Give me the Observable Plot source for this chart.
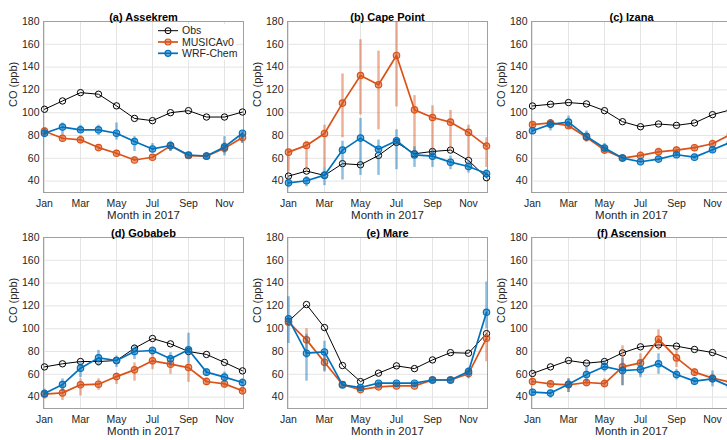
<!DOCTYPE html>
<html><head><meta charset="utf-8">
<script src="https://cdn.jsdelivr.net/npm/d3@7"></script>
<script src="https://cdn.jsdelivr.net/npm/@observablehq/plot@0.6"></script>
<style>
html,body{margin:0;padding:0;background:#fff;overflow:hidden;}
#fig{position:relative;width:727px;height:440px;overflow:hidden;background:#fff;}
#fig svg{position:absolute;}
</style></head><body><div id="fig"></div>
<script>
const months = ["Jan","Feb","Mar","Apr","May","Jun","Jul","Aug","Sep","Oct","Nov","Dec"];
const tickMonths = ["Jan","Mar","May","Jul","Sep","Nov"];
const yTicks = [40,60,80,100,120,140,160,180];
const titles = ["(a) Assekrem","(b) Cape Point","(c) Izana","(d) Gobabeb","(e) Mare","(f) Ascension"];
const legendLabels = ["Obs","MUSICAv0","WRF-Chem"];

// (a) Assekrem
const obsA = [103,110.3,117.6,116.2,106,95,93,100,101.8,96.2,96.2,100.6];
const musA = [83.8,77.6,76.2,69.4,64.4,58.5,60.9,70.9,62.4,61.8,68.8,78.2];
const musLoA = [81,75,73,67,62,57,59,66,60,60,64,73];
const musHiA = [87,81,80,72,67,61,63,74,64,64,74,82];
const wrfA = [82,87.4,85,85,82,74.7,68.2,71.2,62.9,62,70,82];
const wrfLoA = [78,81,82,80,76,66,65,66,61,60,62,73];
const wrfHiA = [86,91,89,89,91,79,73,75,65,65,79,84];

// (b) Cape Point
const obsB = [44.4,48.8,45,55.3,54.3,62.5,73.9,64,66,67.2,58.1,43];
const musB = [65.4,71.3,81.8,108.4,132.6,124.5,150.2,102.5,95.8,91.7,82.7,70.7];
const musLoB = [48,49,52,78,98,85,105,66,66,67,60,52];
const musHiB = [67,75,89,134,164,154,195,115,106,102,89,78];
const wrfB = [38.5,40.3,45.2,67.2,77.7,68,75.4,63,61.9,56.6,52.8,46.7];
const wrfLoB = [34,35,36,41,45,45,50,52,52,50,47,42];
const wrfHiB = [43,44,52,75,95,76,85,70,68,62,58,50];

// (c) Izana
const obsC = [105.9,107.4,108.9,107.7,101.8,92.1,87.7,90.1,88.9,91,98.3,102.5];
const musC = [89.5,91,88.6,78.4,67.2,60.2,62.5,65.7,67.2,69.3,72.8,81];
const musLoC = [87,87,86,75,64,58,58,62,64,66,69,78];
const musHiC = [92,94,91,81,70,62,66,69,70,72,76,84];
const wrfC = [84.2,89.8,91.8,79.2,69,60.2,57,59.3,63.1,61,67.5,74];
const wrfLoC = [81,84,86,74,65,57,55,57,61,59,65,72];
const wrfHiC = [87,94,97,84,73,63,59,61,65,63,70,76];

// (d) Gobabeb
const obsD = [66.5,69.2,71.2,71.2,72.1,82.9,91.4,86.7,80,77.4,70.4,63];
const musD = [42.6,43.7,50.8,51.3,58,63.9,71.8,68.9,65.9,53.7,51.6,45.5];
const musLoD = [38,37,41,46,51,54,64,60,53,50,48,42];
const musHiD = [47,50,56,56,61,70,78,71,70,57,55,49];
const wrfD = [43.2,51,65.4,74.4,72.1,80,80.9,73.6,81.5,61.9,57.5,52.8];
const wrfLoD = [40,45,57,67,66,73,77,67,70,58,53,49];
const wrfHiD = [46,56,71,81,76,86,84,79,96,65,62,56];

// (e) Mare
const obsE = [106.5,121.2,101,67.7,53.6,61,67.4,65,72.6,79,78.5,95.7];
const musE = [105.7,90.2,70.6,51,46.6,49,49.8,49.8,55,55,60.6,91.6];
const musLoE = [102,74,63,49,45,47,48,48,53,53,58,71];
const musHiE = [109,100,79,53,48,51,51,51,57,57,63,97];
const wrfE = [108.6,78.5,79.6,50.7,48.4,52.2,52.2,52.2,55,55,62.4,114.4];
const wrfLoE = [87,54,62,48,46,50,50,50,53,53,56,100];
const wrfHiE = [128,95,89,53,51,54,54,54,57,57,66,141];

// (f) Ascension
const obsF = [60.7,66.5,72.1,69.8,71.2,78.8,84.1,85.8,84.7,81.8,79.1,73];
const musF = [53.7,51.6,50.8,52.8,51.9,66.5,70,90.8,74.4,61.9,56.6,53];
const musLoF = [51,49,44,49,48,50,59,81,66,58,53,50];
const musHiF = [56,54,56,55,56,85,78,99,82,65,60,56];
const wrfF = [44.3,43.5,51.3,59.8,66.8,63.3,64.2,69.2,59.8,54,56,49];
const wrfLoF = [41,39,44,53,62,50,57,60,55,51,49,46];
const wrfHiF = [47,46,56,68,72,74,72,78,64,57,63,52];

const series = [
  [obsA,musA,musLoA,musHiA,wrfA,wrfLoA,wrfHiA],
  [obsB,musB,musLoB,musHiB,wrfB,wrfLoB,wrfHiB],
  [obsC,musC,musLoC,musHiC,wrfC,wrfLoC,wrfHiC],
  [obsD,musD,musLoD,musHiD,wrfD,wrfLoD,wrfHiD],
  [obsE,musE,musLoE,musHiE,wrfE,wrfLoE,wrfHiE],
  [obsF,musF,musLoF,musHiF,wrfF,wrfLoF,wrfHiF]
];

const ORANGE = "#D95319", BLUE = "#0072BD", TXT = "#262626";
const lefts = [0,244,488], tops = [0,216];
const fig = document.getElementById("fig");

series.forEach((s, k) => {
  const [obs,mus,musLo,musHi,wrf,wrfLo,wrfHi] = s;
  const data = months.map((m,i) => ({month:m, obs:obs[i], mus:mus[i], musLo:musLo[i], musHi:musHi[i], wrf:wrf[i], wrfLo:wrfLo[i], wrfHi:wrfHi[i]}));
  const chart = Plot.plot({
    width: 245, height: 224,
    marginLeft: 43, marginRight: 2, marginTop: 21, marginBottom: 32,
    style: {fontFamily: "'Liberation Sans', Arial, Helvetica, sans-serif", fontSize: "10.5px", color: TXT, background: "transparent", overflow: "visible"},
    x: {type: "point", domain: months, padding: 0, align: 0.5, label: null},
    y: {domain: [30,180], label: null},
    marks: [
      Plot.gridX(tickMonths, {stroke: "#e4e4e4", strokeOpacity: 1}),
      Plot.gridY(yTicks, {stroke: "#e4e4e4", strokeOpacity: 1}),
      Plot.frame({stroke: "#a0a0a0"}),
      Plot.axisX(tickMonths, {tickSize: 0, tickPadding: 7, fontSize: 10.5, label: null}),
      Plot.axisY(yTicks, {tickSize: 0, tickPadding: 4, fontSize: 10.5, label: null}),
      Plot.text(["CO (ppb)"], {text: d => d, frameAnchor: "left", rotate: -90, dx: -30.5, fontSize: 11, fill: TXT}),
      Plot.text(["Month in 2017"], {text: d => d, frameAnchor: "bottom", dy: 26, fontSize: 11.5, fill: TXT}),
      Plot.text([titles[k]], {text: d => d, frameAnchor: "top", dy: -8, fontSize: 11, fontWeight: "bold", fill: "#000"}),
      Plot.line(data, {x: "month", y: "obs", stroke: "#000", strokeWidth: 1}),
      Plot.dot(data, {x: "month", y: "obs", r: 3.2, stroke: "#000", fill: "none", strokeWidth: 1}),
      Plot.ruleX(data, {x: "month", y1: "musLo", y2: "musHi", stroke: ORANGE, strokeOpacity: 0.45, strokeWidth: 2.5, clip: true}),
      Plot.line(data, {x: "month", y: "mus", stroke: ORANGE, strokeWidth: 1.7}),
      Plot.dot(data, {x: "month", y: "mus", r: 3.2, stroke: ORANGE, fill: ORANGE, fillOpacity: 0.5, strokeWidth: 1.2}),
      Plot.ruleX(data, {x: "month", y1: "wrfLo", y2: "wrfHi", stroke: BLUE, strokeOpacity: 0.45, strokeWidth: 2.5, clip: true}),
      Plot.line(data, {x: "month", y: "wrf", stroke: BLUE, strokeWidth: 1.7}),
      Plot.dot(data, {x: "month", y: "wrf", r: 3.2, stroke: BLUE, fill: BLUE, fillOpacity: 0.5, strokeWidth: 1.2})
    ]
  });
  chart.style.left = lefts[k % 3] + "px";
  chart.style.top = tops[Math.floor(k / 3)] + "px";
  if (k === 0) {
    const svg = d3.select(chart);
    const g = svg.append("g").attr("font-size", 10.5).attr("fill", TXT).attr("text-anchor", "start");
    g.append("rect").attr("x", 154).attr("y", 24).attr("width", 82).attr("height", 36).attr("fill", "#fff");
    const cols = ["#000", ORANGE, BLUE];
    legendLabels.forEach((lab, i) => {
      const y = 30.7 + i * 11.3;
      g.append("line").attr("x1", 158).attr("x2", 178).attr("y1", y).attr("y2", y)
        .attr("stroke", cols[i]).attr("stroke-width", i ? 1.7 : 1);
      g.append("circle").attr("cx", 168).attr("cy", y).attr("r", 3)
        .attr("stroke", cols[i]).attr("fill", i ? cols[i] : "none").attr("fill-opacity", 0.5).attr("stroke-width", i ? 1.2 : 1);
      g.append("text").attr("x", 182).attr("y", y).attr("dy", "0.35em").attr("text-anchor", "start").text(lab);
    });
  }
  fig.appendChild(chart);
});
</script></body></html>
